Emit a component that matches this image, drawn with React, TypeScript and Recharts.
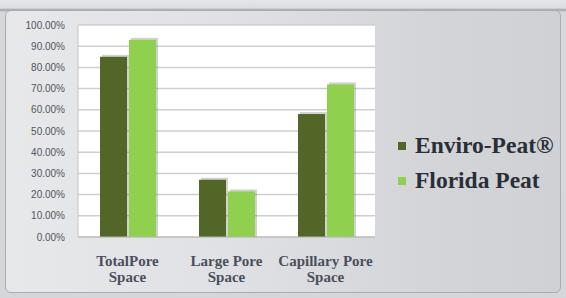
import React from "react";
import { BarChart, Bar, XAxis, YAxis, CartesianGrid, Legend } from "recharts";

const categories = ["TotalPore Space", "Large Pore Space", "Capillary Pore Space"];
const enviroPeat = [85, 27, 58];
const floridaPeat = [93, 21.5, 72];
const yTicks = [0, 10, 20, 30, 40, 50, 60, 70, 80, 90, 100];
const seriesNames = ["Enviro-Peat®", "Florida Peat"];
const seriesColors = ["#526628", "#8fd04f"];

const data = categories.map((c, i) => ({
  name: c,
  a: enviroPeat[i],
  b: floridaPeat[i],
}));

const ShadowBar = (props: any) => {
  const { x, y, width, height, fill } = props;
  if (width == null || height == null) return null;
  return (
    <g>
      <rect x={x + 2} y={y - 2} width={width} height={height + 2} fill="rgba(90,90,90,0.28)" />
      <rect x={x} y={y} width={width} height={height} fill={fill} />
    </g>
  );
};

const XTick = (props: any) => {
  const { x, y, payload } = props;
  const label: string = payload.value;
  const idx = label.lastIndexOf(" ");
  const l1 = label.slice(0, idx);
  const l2 = label.slice(idx + 1);
  const st: React.CSSProperties = {
    fontFamily: "'Liberation Serif', 'Times New Roman', serif",
    fontSize: "15px",
    fontWeight: 700,
  };
  return (
    <g>
      <text x={x} y={y + 29} textAnchor="middle" fill="#4a4f5c" style={st}>
        {l1}
      </text>
      <text x={x} y={y + 45} textAnchor="middle" fill="#4a4f5c" style={st}>
        {l2}
      </text>
    </g>
  );
};

const LegendContent = () => (
  <div style={{ paddingLeft: 23, width: 200 }}>
    {seriesNames.map((n, i) => (
      <div
        key={n}
        style={{
          display: "flex",
          alignItems: "center",
          height: 35,
          fontFamily: "'Liberation Serif', serif",
          fontWeight: 700,
          fontSize: 23.5,
          color: "#2a2e36",
          whiteSpace: "nowrap",
        }}
      >
        <span
          style={{
            display: "inline-block",
            flexShrink: 0,
            width: 8,
            height: 8,
            background: seriesColors[i],
            marginRight: 9,
          }}
        />
        {n}
      </div>
    ))}
  </div>
);

export default function App() {
  return (
    <div
      style={{
        position: "absolute",
        left: 0,
        top: 0,
        width: 566,
        height: 298,
        overflow: "hidden",
        background: "linear-gradient(180deg, #e3e5e8 0px, #dcdee1 8px, #9ea2a8 10px, #d6d8db 12px, #d4d6d9 100%)",
      }}
    >
      <div
        style={{
          position: "absolute",
          left: 5,
          top: 10,
          width: 556,
          height: 283,
          boxSizing: "border-box",
          border: "1px solid #a9adb3",
          borderRadius: 6,
          background: "linear-gradient(90deg, #e7e8ea 0%, #e0e1e4 40%, #d3d5d8 75%, #cfd1d4 100%)",
        }}
      />
      <div style={{ position: "absolute", left: 0, top: 0 }}>
        <BarChart
          width={566}
          height={298}
          data={data}
          margin={{ top: 25, right: 16, bottom: 31, left: 0 }}
          barCategoryGap="22%"
          barGap={2}
        >
          <CartesianGrid vertical={false} stroke="#cfcfcf" strokeWidth={1.5} fill="#ffffff" />
          <XAxis
            dataKey="name"
            axisLine={{ stroke: "#b8b8b8" }}
            tickLine={false}
            tickSize={0}
            tickMargin={0}
            height={30}
            interval={0}
            tick={(p: any) => <XTick {...p} />}
          />
          <YAxis
            width={78}
            domain={[0, 100]}
            ticks={yTicks}
            interval={0}
            tickFormatter={(v: number) => v.toFixed(2) + "%"}
            axisLine={{ stroke: "#c4c4c4" }}
            tickLine={false}
            tickSize={0}
            tickMargin={13}
            tick={{ fill: "#505560", fontSize: 10, fontFamily: "'Liberation Sans', sans-serif" }}
          />
          <Legend
            layout="vertical"
            align="right"
            verticalAlign="middle"
            content={<LegendContent />}
            wrapperStyle={{ width: 175, top: 128, overflow: "visible" }}
          />
          <Bar dataKey="a" name={seriesNames[0]} fill={seriesColors[0]} barSize={27} shape={<ShadowBar />} isAnimationActive={false} />
          <Bar dataKey="b" name={seriesNames[1]} fill={seriesColors[1]} barSize={27} shape={<ShadowBar />} isAnimationActive={false} />
        </BarChart>
      </div>
    </div>
  );
}
